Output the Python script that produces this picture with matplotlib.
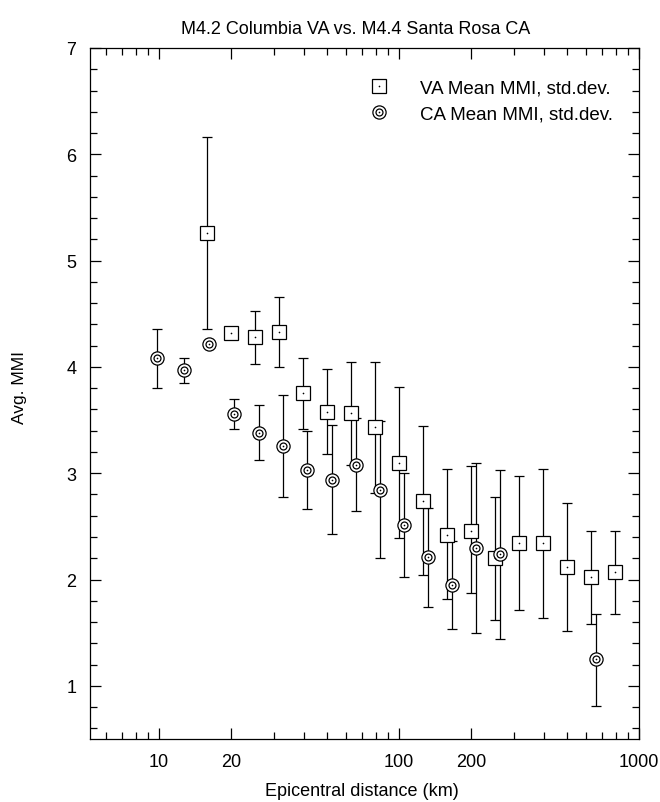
import matplotlib
matplotlib.use('Agg')
import numpy as np
import matplotlib.pyplot as plt
from matplotlib.ticker import FixedLocator, NullFormatter, FixedFormatter, MultipleLocator
from matplotlib.legend_handler import HandlerTuple

plt.rcParams['font.family'] = ['Liberation Sans', 'DejaVu Sans']

# VA (M4.2 Columbia) binned means and std.dev. limits
va_dist = [15.85, 19.95, 25.1, 31.6, 39.8, 50.1, 63.1, 79.4, 100, 125.9, 158.5, 199.5, 251, 316, 398, 501, 631, 794]
va_mmi = [5.26, 4.32, 4.28, 4.33, 3.75, 3.58, 3.57, 3.43, 3.10, 2.74, 2.42, 2.46, 2.20, 2.34, 2.34, 2.12, 2.02, 2.07]
va_hi = [6.16, 4.32, 4.53, 4.66, 4.08, 3.98, 4.05, 4.05, 3.81, 3.44, 3.04, 3.07, 2.78, 2.97, 3.04, 2.72, 2.46, 2.46]
va_lo = [4.36, 4.32, 4.03, 4.00, 3.42, 3.18, 3.08, 2.81, 2.39, 2.04, 1.82, 1.87, 1.62, 1.71, 1.64, 1.52, 1.58, 1.68]

# CA (M4.4 Santa Rosa)
ca_dist = [9.8, 12.7, 16.2, 20.5, 26.0, 32.8, 41.4, 52.3, 65.9, 83.1, 104.6, 132, 166, 209, 263, 661]
ca_mmi = [4.08, 3.97, 4.22, 3.56, 3.38, 3.26, 3.03, 2.94, 3.08, 2.84, 2.51, 2.21, 1.95, 2.30, 2.24, 1.25]
ca_hi = [4.36, 4.08, 4.22, 3.70, 3.64, 3.74, 3.40, 3.45, 3.52, 3.49, 3.00, 2.67, 2.36, 3.10, 3.03, 1.68]
ca_lo = [3.80, 3.85, 4.22, 3.42, 3.12, 2.78, 2.66, 2.43, 2.64, 2.20, 2.02, 1.74, 1.53, 1.50, 1.44, 0.81]

fig = plt.figure(figsize=(6.6, 8.03), dpi=100)
ax = fig.add_axes([0.1364, 0.0785, 0.8318, 0.8605])


def err(mid, lo, hi):
    mid = np.array(mid)
    return [mid - np.array(lo), np.array(hi) - mid]


ax.errorbar(va_dist, va_mmi, yerr=err(va_mmi, va_lo, va_hi), fmt='none',
            ecolor='black', elinewidth=0.9, capsize=3.3, capthick=0.9, zorder=2)
ax.errorbar(ca_dist, ca_mmi, yerr=err(ca_mmi, ca_lo, ca_hi), fmt='none',
            ecolor='black', elinewidth=0.9, capsize=3.3, capthick=0.9, zorder=2)

va_box, = ax.plot(va_dist, va_mmi, 's', ms=10, mfc='white', mec='black', mew=0.9, ls='none', zorder=3)
va_dot, = ax.plot(va_dist, va_mmi, 'o', ms=1.2, mfc='black', mec='black', mew=0, ls='none', zorder=4)

ca_out, = ax.plot(ca_dist, ca_mmi, 'o', ms=9.5, mfc='white', mec='black', mew=0.9, ls='none', zorder=3)
ca_in, = ax.plot(ca_dist, ca_mmi, 'o', ms=5, mfc='white', mec='black', mew=0.9, ls='none', zorder=4)
ca_dot, = ax.plot(ca_dist, ca_mmi, 'o', ms=1.2, mfc='black', mec='black', mew=0, ls='none', zorder=5)

ax.set_xscale('log')
ax.set_xlim(5.15, 1000)
ax.set_ylim(0.5, 7)

ax.xaxis.set_major_locator(FixedLocator([10, 20, 100, 200, 1000]))
ax.xaxis.set_major_formatter(FixedFormatter(['10', '20', '100', '200', '1000']))
minors = [6, 7, 8, 9, 30, 40, 50, 60, 70, 80, 90, 300, 400, 500, 600, 700, 800, 900]
ax.xaxis.set_minor_locator(FixedLocator(minors))
ax.xaxis.set_minor_formatter(NullFormatter())
ax.yaxis.set_major_locator(MultipleLocator(1))
ax.yaxis.set_minor_locator(MultipleLocator(0.2))

ax.tick_params(which='both', direction='in', top=True, right=True, width=0.9, labelsize=13)
ax.tick_params(which='major', length=8, pad=10)
ax.tick_params(which='minor', length=5)
for s in ax.spines.values():
    s.set_linewidth(0.9)

ax.set_title('M4.2 Columbia VA vs. M4.4 Santa Rosa CA', fontsize=13, pad=11, x=0.484)
ax.set_xlabel('Epicentral distance (km)', fontsize=13)
ax.xaxis.set_label_coords(0.495, -0.063)
ax.set_ylabel('Avg. MMI', fontsize=12.5)
ax.yaxis.set_label_coords(-0.114, 0.51)

ax.legend([(va_box, va_dot), (ca_out, ca_in, ca_dot)],
          ['VA Mean MMI, std.dev.', 'CA Mean MMI, std.dev.'],
          handler_map={tuple: HandlerTuple(ndivide=1, pad=0)},
          loc='upper right', bbox_to_anchor=(0.953, 0.955), frameon=False,
          borderpad=0, borderaxespad=0, handlelength=1.0, handletextpad=1.7,
          labelspacing=0.5, fontsize=13.5)

fig.savefig('out.png', dpi=100)
